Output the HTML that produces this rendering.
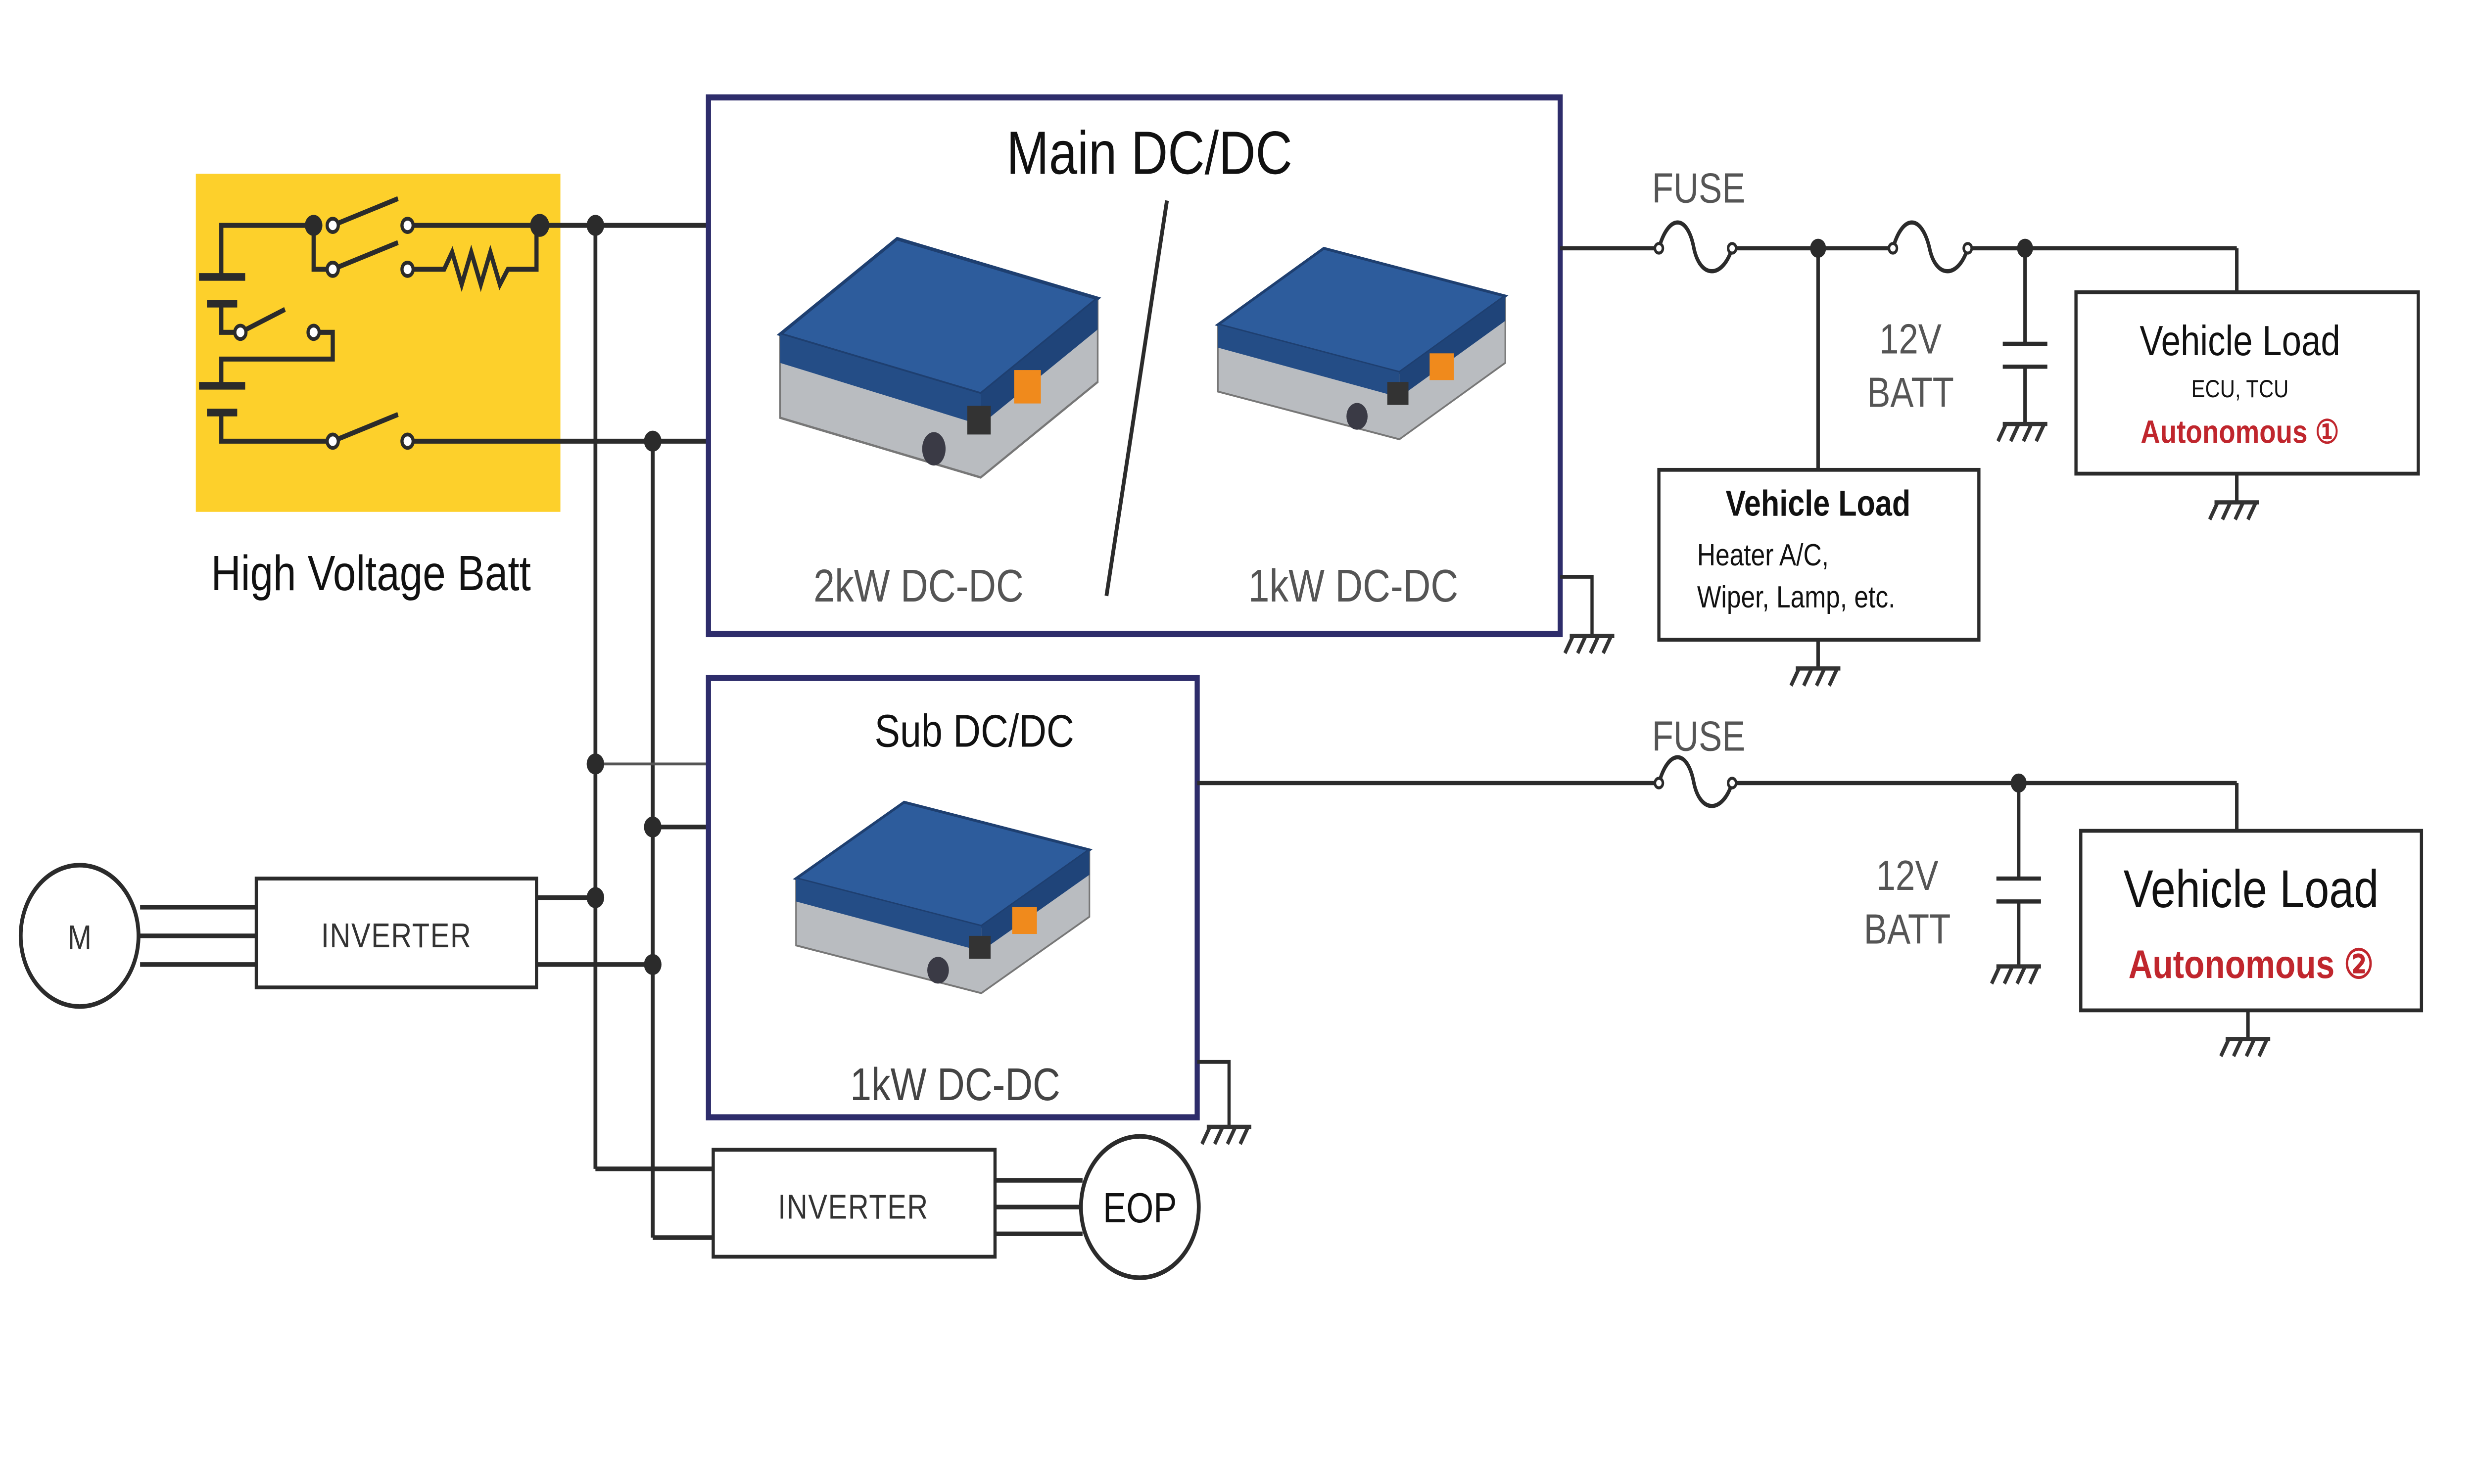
<!DOCTYPE html>
<html><head><meta charset="utf-8"><style>
html,body{margin:0;padding:0;background:#fff;overflow:hidden;width:100vw;height:100vh;}
svg{display:block;width:100vw;height:100vh;}
text{font-family:"Liberation Sans",sans-serif;}
</style></head><body>
<svg viewBox="0 0 1554 777" preserveAspectRatio="none" xmlns="http://www.w3.org/2000/svg">
<defs>
<g id="gnd" stroke="#333" stroke-width="2.2" fill="none">
<line x1="-14" y1="0" x2="14" y2="0"/>
<line x1="-12" y1="0" x2="-17" y2="9"/><line x1="-4" y1="0" x2="-9" y2="9"/><line x1="4" y1="0" x2="-1" y2="9"/><line x1="12" y1="0" x2="7" y2="9"/>
</g>
<g id="mod">
<polygon points="0,40 70,0 190,25 190,60 120,100 0,75" fill="#b9bcc0" stroke="#777" stroke-width="1"/>
<polygon points="0,40 70,0 190,25 120,65" fill="#2d5c9c" stroke="#1e3f70" stroke-width="1.5"/>
<polygon points="0,40 120,65 120,78 0,52" fill="#244d86"/>
<polygon points="120,65 190,25 190,38 120,78" fill="#1f4479"/>
<rect x="140" y="55" width="16" height="14" fill="#f08a1c"/>
<rect x="112" y="70" width="14" height="12" fill="#333"/>
<circle cx="92" cy="88" r="7" fill="#3a3a45"/>
</g>
</defs>

<rect x="123" y="91" width="229" height="177" fill="#fdd02b"/>
<g stroke="#2b2b2b" stroke-width="2.6" fill="none">
<polyline points="139,145 139,118 197,118"/>
<polyline points="197,118 197,141 209,141"/>
<line x1="209" y1="118" x2="250" y2="104"/>
<line x1="209" y1="141" x2="250" y2="127"/>
<line x1="256" y1="118" x2="337" y2="118"/>
<polyline points="256,141 279,141 284,132 290,149 296,132 302,149 308,132 314,149 319,141 337,141 337,118"/>
<line x1="337" y1="118" x2="445" y2="118"/>
<line x1="125" y1="145" x2="154" y2="145" stroke-width="4"/>
<line x1="130" y1="159" x2="149" y2="159" stroke-width="4"/>
<polyline points="139,159 139,174 151,174"/>
<line x1="151" y1="174" x2="179" y2="162"/>
<polyline points="197,174 209,174 209,188 139,188 139,202"/>
<line x1="125" y1="202" x2="154" y2="202" stroke-width="4"/>
<line x1="130" y1="216" x2="149" y2="216" stroke-width="4"/>
<polyline points="139,216 139,231 209,231"/>
<line x1="209" y1="231" x2="250" y2="217"/>
<line x1="256" y1="231" x2="445" y2="231"/>
</g>
<g fill="#fff" stroke="#2b2b2b" stroke-width="2">
<circle cx="209" cy="118" r="3.5"/><circle cx="256" cy="118" r="3.5"/>
<circle cx="209" cy="141" r="3.5"/><circle cx="256" cy="141" r="3.5"/>
<circle cx="151" cy="174" r="3.5"/><circle cx="197" cy="174" r="3.5"/>
<circle cx="209" cy="231" r="3.5"/><circle cx="256" cy="231" r="3.5"/>
</g>
<text x="233" y="309" font-size="26" text-anchor="middle" fill="#111">High Voltage Batt</text>

<g stroke="#2b2b2b" stroke-width="2.4" fill="none">
<line x1="374" y1="118" x2="374" y2="612"/>
<line x1="410" y1="231" x2="410" y2="648"/>
<line x1="374" y1="400" x2="445" y2="400" stroke="#555" stroke-width="1.5"/>
<line x1="410" y1="433" x2="445" y2="433"/>
<line x1="337" y1="470" x2="374" y2="470"/>
<line x1="337" y1="505" x2="410" y2="505"/>
<line x1="374" y1="612" x2="448" y2="612"/>
<line x1="410" y1="648" x2="448" y2="648"/>
<line x1="88" y1="475" x2="161" y2="475"/><line x1="88" y1="490" x2="161" y2="490"/><line x1="88" y1="505" x2="161" y2="505"/>
<line x1="625" y1="618" x2="680" y2="618"/><line x1="625" y1="632" x2="678" y2="632"/><line x1="625" y1="646" x2="680" y2="646"/>
</g>
<g fill="#2b2b2b">
<circle cx="197" cy="118" r="5.5"/><circle cx="339" cy="118" r="6"/><circle cx="374" cy="118" r="5.5"/>
<circle cx="410" cy="231" r="5.5"/><circle cx="374" cy="400" r="5.5"/><circle cx="410" cy="433" r="5.5"/>
<circle cx="374" cy="470" r="5.5"/><circle cx="410" cy="505" r="5.5"/>
</g>
<circle cx="50" cy="490" r="37" fill="#fff" stroke="#2b2b2b" stroke-width="2.4"/>
<text x="50" y="497" font-size="18" text-anchor="middle" fill="#333">M</text>
<rect x="161" y="460" width="176" height="57" fill="#fff" stroke="#2b2b2b" stroke-width="2"/>
<text x="249" y="496" font-size="18" text-anchor="middle" fill="#333" letter-spacing="0.5">INVERTER</text>
<rect x="448" y="602" width="177" height="56" fill="#fff" stroke="#2b2b2b" stroke-width="2"/>
<text x="536" y="638" font-size="18" text-anchor="middle" fill="#333" letter-spacing="0.5">INVERTER</text>
<circle cx="716" cy="632" r="37" fill="#fff" stroke="#2b2b2b" stroke-width="2.4"/>
<text x="716" y="640" font-size="22" text-anchor="middle" fill="#111">EOP</text>

<rect x="445" y="51" width="535" height="281" fill="#fff" stroke="#2e2d6b" stroke-width="3.2"/>
<text x="722" y="91" font-size="32" text-anchor="middle" fill="#111">Main DC/DC</text>
<line x1="733" y1="105" x2="695" y2="312" stroke="#2b2b2b" stroke-width="2.4"/>
<g transform="translate(490,125) scale(1.05,1.25)"><use href="#mod"/></g>
<g transform="translate(765,130) scale(0.95,1)"><use href="#mod"/></g>
<text x="577" y="315" font-size="24" text-anchor="middle" fill="#555">2kW DC-DC</text>
<text x="850" y="315" font-size="24" text-anchor="middle" fill="#555">1kW DC-DC</text>
<polyline points="980,302 1000,302 1000,333" stroke="#2b2b2b" stroke-width="2" fill="none"/>
<use href="#gnd" x="1000" y="333"/>

<rect x="445" y="355" width="307" height="230" fill="#fff" stroke="#2e2d6b" stroke-width="3.2"/>
<text x="612" y="391" font-size="24" text-anchor="middle" fill="#111">Sub DC/DC</text>
<g transform="translate(500,420) scale(0.97,1)"><use href="#mod"/></g>
<text x="600" y="576" font-size="24" text-anchor="middle" fill="#444">1kW DC-DC</text>
<polyline points="752,556 772,556 772,590" stroke="#2b2b2b" stroke-width="2" fill="none"/>
<use href="#gnd" x="772" y="590"/>

<g stroke="#2b2b2b" stroke-width="2.2" fill="none">
<line x1="980" y1="130" x2="1042" y2="130"/>
<path d="M1042,130 C1048,112 1060,112 1064,130 C1068,146 1082,146 1088,130"/>
<line x1="1088" y1="130" x2="1189" y2="130"/>
<path d="M1189,130 C1195,112 1207,112 1212,130 C1216,146 1230,146 1236,130"/>
<line x1="1236" y1="130" x2="1405" y2="130"/>
<line x1="1405" y1="130" x2="1405" y2="153"/>
<line x1="1142" y1="130" x2="1142" y2="246"/>
<line x1="1272" y1="130" x2="1272" y2="180"/>
<line x1="1258" y1="180" x2="1286" y2="180"/>
<line x1="1258" y1="192" x2="1286" y2="192"/>
<line x1="1272" y1="192" x2="1272" y2="222"/>
<line x1="1142" y1="335" x2="1142" y2="350"/>
<line x1="1405" y1="248" x2="1405" y2="263"/>
</g>
<g fill="#fff" stroke="#2b2b2b" stroke-width="1.6">
<circle cx="1042" cy="130" r="2.5"/><circle cx="1088" cy="130" r="2.5"/>
<circle cx="1189" cy="130" r="2.5"/><circle cx="1236" cy="130" r="2.5"/>
</g>
<circle cx="1142" cy="130" r="5" fill="#2b2b2b"/><circle cx="1272" cy="130" r="5" fill="#2b2b2b"/>
<use href="#gnd" x="1272" y="222"/><use href="#gnd" x="1142" y="350"/><use href="#gnd" x="1405" y="263"/>
<text x="1067" y="106" font-size="22" text-anchor="middle" fill="#555">FUSE</text>
<text x="1200" y="185" font-size="22" text-anchor="middle" fill="#555">12V</text>
<text x="1200" y="213" font-size="22" text-anchor="middle" fill="#555">BATT</text>
<rect x="1304" y="153" width="215" height="95" fill="#fff" stroke="#2b2b2b" stroke-width="2"/>
<text x="1407" y="186" font-size="22" text-anchor="middle" fill="#111">Vehicle Load</text>
<text x="1407" y="208" font-size="13" text-anchor="middle" fill="#111">ECU, TCU</text>
<text x="1407" y="232" font-size="17" font-weight="bold" text-anchor="middle" fill="#c0262d">Autonomous ①</text>
<rect x="1042" y="246" width="201" height="89" fill="#fff" stroke="#2b2b2b" stroke-width="2"/>
<text x="1142" y="270" font-size="19" font-weight="bold" text-anchor="middle" fill="#111">Vehicle Load</text>
<text x="1066" y="296" font-size="16" fill="#111">Heater A/C,</text>
<text x="1066" y="318" font-size="16" fill="#111">Wiper, Lamp, etc.</text>

<g stroke="#2b2b2b" stroke-width="2.2" fill="none">
<line x1="752" y1="410" x2="1042" y2="410"/>
<path d="M1042,410 C1048,392 1060,392 1064,410 C1068,426 1082,426 1088,410"/>
<line x1="1088" y1="410" x2="1405" y2="410"/>
<line x1="1405" y1="410" x2="1405" y2="435"/>
<line x1="1268" y1="410" x2="1268" y2="460"/>
<line x1="1254" y1="460" x2="1282" y2="460"/>
<line x1="1254" y1="472" x2="1282" y2="472"/>
<line x1="1268" y1="472" x2="1268" y2="506"/>
<line x1="1412" y1="529" x2="1412" y2="544"/>
</g>
<g fill="#fff" stroke="#2b2b2b" stroke-width="1.6"><circle cx="1042" cy="410" r="2.5"/><circle cx="1088" cy="410" r="2.5"/></g>
<circle cx="1268" cy="410" r="5" fill="#2b2b2b"/>
<use href="#gnd" x="1268" y="506"/><use href="#gnd" x="1412" y="544"/>
<text x="1067" y="393" font-size="22" text-anchor="middle" fill="#555">FUSE</text>
<text x="1198" y="466" font-size="22" text-anchor="middle" fill="#555">12V</text>
<text x="1198" y="494" font-size="22" text-anchor="middle" fill="#555">BATT</text>
<rect x="1307" y="435" width="214" height="94" fill="#fff" stroke="#2b2b2b" stroke-width="2"/>
<text x="1414" y="475" font-size="28" text-anchor="middle" fill="#111">Vehicle Load</text>
<text x="1414" y="512" font-size="21" font-weight="bold" text-anchor="middle" fill="#c0262d">Autonomous ②</text>
</svg>
</body></html>
